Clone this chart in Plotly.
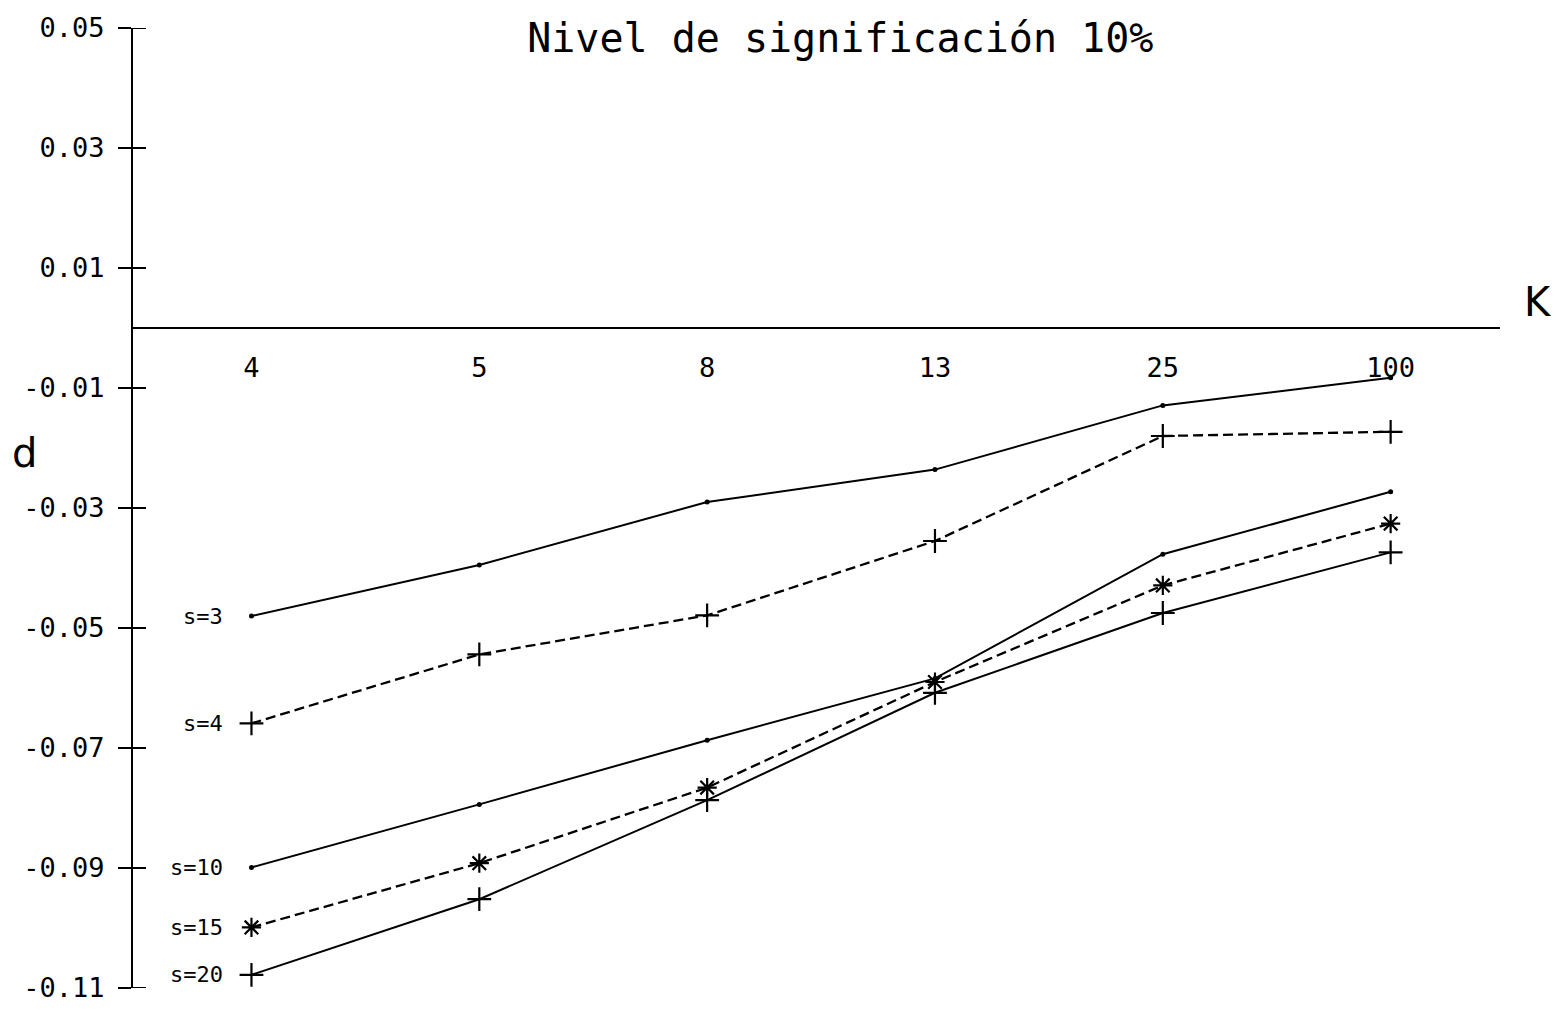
import plotly.graph_objects as go

# k categories along the horizontal axis
k_labels = ["4", "5", "8", "13", "25", "100"]

# d values for each s
d_s3 = [-0.0480, -0.0395, -0.0290, -0.0236, -0.0129, -0.0083]
d_s4 = [-0.0659, -0.0544, -0.0479, -0.0355, -0.0180, -0.0173]
d_s10 = [-0.0899, -0.0794, -0.0687, -0.0584, -0.0377, -0.0273]
d_s15 = [-0.0999, -0.0892, -0.0766, -0.0590, -0.0429, -0.0326]
d_s20 = [-0.1078, -0.0952, -0.0787, -0.0608, -0.0475, -0.0374]

series_names = ["s=3", "s=4", "s=10", "s=15", "s=20"]
y_ticks = [0.05, 0.03, 0.01, -0.01, -0.03, -0.05, -0.07, -0.09, -0.11]

MONO = "DejaVu Sans Mono"
x_idx = list(range(len(k_labels)))

styles = {
    "s=3": dict(dash="solid", symbol="circle", size=5, lw=0),
    "s=4": dict(dash="10px,5px", symbol="cross-thin", size=17, lw=2.2),
    "s=10": dict(dash="solid", symbol="circle", size=5, lw=0),
    "s=15": dict(dash="10px,5px", symbol="asterisk", size=16, lw=2.2),
    "s=20": dict(dash="solid", symbol="cross-thin", size=17, lw=2.2),
}

# plot-area geometry in pixels
W, H = 1556, 1015
ML, MR, MT, MB = 133, 56, 24, 17
TICK = 13

fig = go.Figure()
for name, vals in zip(series_names, [d_s3, d_s4, d_s10, d_s15, d_s20]):
    st = styles[name]
    fig.add_trace(go.Scatter(
        x=x_idx, y=vals, mode="lines+markers", name=name,
        line=dict(color="black", width=2 if st["dash"] == "solid" else 2.3,
                  dash=st["dash"]),
        marker=dict(symbol=st["symbol"], size=st["size"], color="black",
                    line=dict(color="black", width=st["lw"])),
        showlegend=False,
    ))
    # series label to the left of the first point
    fig.add_annotation(
        x=0, y=vals[0], xref="x", yref="y", text=name, showarrow=False,
        xanchor="right", xshift=-26, font=dict(family=MONO, size=22, color="black"),
    )

y_range = [-0.11, 0.05]
zero_pos = (0 - y_range[0]) / (y_range[1] - y_range[0])

fig.update_layout(
    width=W, height=H,
    margin=dict(l=ML, r=MR, t=MT, b=MB),
    paper_bgcolor="white", plot_bgcolor="white",
    title=dict(text="Nivel de significación 10%", x=0.54, xanchor="center",
               y=1 - 38 / H, yanchor="middle", yref="container",
               font=dict(family=MONO, size=40, color="black")),
    xaxis=dict(
        range=[-0.52, 5.48], tickmode="array", tickvals=x_idx, ticktext=k_labels,
        anchor="free", position=zero_pos, showline=True, linecolor="black",
        linewidth=2, ticks="", showgrid=False, zeroline=False,
        ticklabelstandoff=16, tickfont=dict(family=MONO, size=27, color="black"),
    ),
    yaxis=dict(
        range=y_range, tickmode="array", tickvals=y_ticks,
        ticktext=[f"{v:.2f}" for v in y_ticks],
        showline=True, linecolor="black", linewidth=2, ticks="outside",
        ticklen=TICK, tickwidth=2, tickcolor="black", showgrid=False,
        zeroline=False, ticklabelstandoff=8,
        tickfont=dict(family=MONO, size=27, color="black"),
    ),
)

# inner half of the crossing tick marks on the d axis
for v in y_ticks:
    fig.add_shape(type="line", xref="paper", yref="y", xsizemode="pixel",
                  xanchor=0, x0=0, x1=TICK, y0=v, y1=v,
                  line=dict(color="black", width=2))


def px_to_paper(px, py):
    return (px - ML) / (W - ML - MR), 1 - (py - MT) / (H - MT - MB)


# axis names
kx, ky = px_to_paper(1538, 302)
fig.add_annotation(x=kx, y=ky, xref="paper", yref="paper", text="K",
                   xanchor="center", yanchor="middle", showarrow=False,
                   font=dict(family="DejaVu Sans", size=40, color="black"))
dx, dy = px_to_paper(24, 455)
fig.add_annotation(x=dx, y=dy, xref="paper", yref="paper", text="d",
                   xanchor="center", yanchor="middle", showarrow=False,
                   font=dict(family="DejaVu Sans", size=40, color="black"))

fig.write_html("out.html")
